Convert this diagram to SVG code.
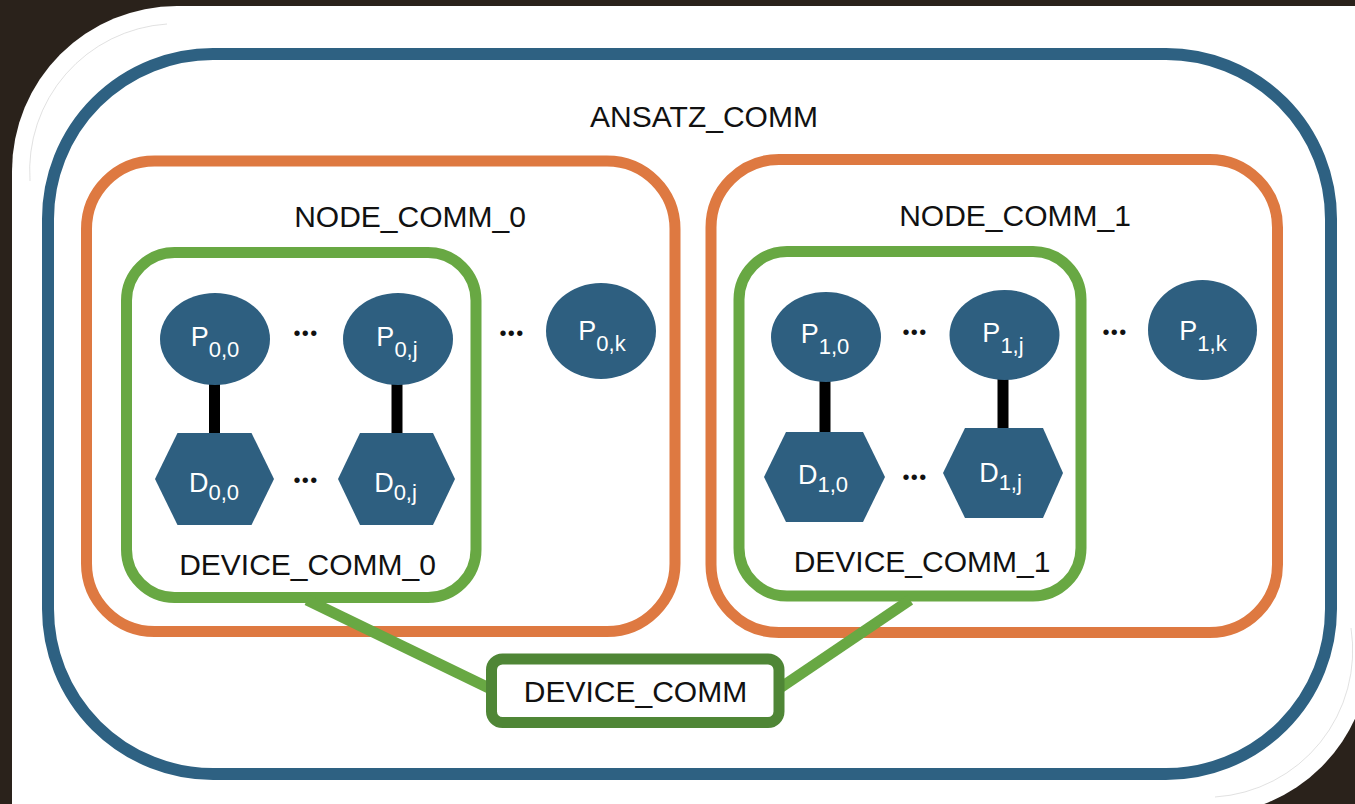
<svg xmlns="http://www.w3.org/2000/svg" width="1355" height="804" viewBox="0 0 1355 804">
<style>
.lbl{font-family:"Liberation Sans",Arial,sans-serif;font-size:30px;fill:#111;text-anchor:middle}
.nt{font-family:"Liberation Sans",Arial,sans-serif;font-size:27px;fill:#fff;text-anchor:middle}
.sub{font-size:22px}
.node{fill:#2e5f80}
.dots{font-family:"Liberation Sans",Arial,sans-serif;font-size:20px;fill:#111;text-anchor:middle;letter-spacing:1.4px}
.ansatz{fill:none;stroke:#2e6182;stroke-width:12}
.nodecomm{fill:none;stroke:#de7941;stroke-width:11}
.devcomm{fill:none;stroke:#68a843;stroke-width:11}
.link{stroke:#000;stroke-width:11}
.glink{stroke:#68a843;stroke-width:11;fill:none}
</style>
<rect x="0" y="0" width="1355" height="804" fill="#2a221b"/>
<path d="M12,171 A165,165 0 0 1 177,6 H1370 V650 A165,165 0 0 1 1205,815 H12 Z" fill="#fff"/>
<path d="M30,181 A147,147 0 0 1 167,24" fill="none" stroke="#aaa" stroke-width="0.6" opacity="0.6"/>
<path d="M1351,628 A147,147 0 0 1 1215,797" fill="none" stroke="#aaa" stroke-width="0.6" opacity="0.6"/>

<g id="ansatz_comm">
<rect class="ansatz" x="48" y="54" width="1283" height="720" rx="165" ry="165"/>
<text class="lbl" x="704" y="127">ANSATZ_COMM</text>
</g>
<g id="node_comm_0">
<rect class="nodecomm" x="86.5" y="161" width="588.5" height="470.5" rx="68" ry="68"/>
<text class="lbl" x="410" y="227">NODE_COMM_0</text>
</g>
<g id="node_comm_1">
<rect class="nodecomm" x="711" y="159.5" width="566.5" height="473" rx="68" ry="68"/>
<text class="lbl" x="1015" y="226">NODE_COMM_1</text>
</g>
<g id="device_comm_0">
<rect class="devcomm" x="126.5" y="252.5" width="349.5" height="345" rx="48" ry="48"/>
<text class="lbl" x="307.5" y="575">DEVICE_COMM_0</text>
</g>
<g id="device_comm_1">
<rect class="devcomm" x="739" y="251.5" width="342" height="344.5" rx="48" ry="48"/>
<text class="lbl" x="922" y="572">DEVICE_COMM_1</text>
</g>

<g id="connectors">
<line class="link" x1="214.5" y1="380" x2="214.5" y2="438"/>
<line class="link" x1="397" y1="380" x2="397" y2="438"/>
<line class="link" x1="825" y1="378" x2="825" y2="436"/>
<line class="link" x1="1003" y1="376" x2="1003" y2="432"/>
<line class="glink" x1="307" y1="600" x2="493" y2="690"/>
<line class="glink" x1="910" y1="600" x2="777" y2="690"/>
</g>

<g id="p00"><ellipse class="node" cx="215" cy="339" rx="55" ry="46"/><text class="nt" x="215" y="346">P<tspan class="sub" dy="11">0,0</tspan></text></g>
<g id="p0j"><ellipse class="node" cx="398" cy="339" rx="55" ry="46"/><text class="nt" x="397" y="346">P<tspan class="sub" dy="11">0,j</tspan></text></g>
<g id="p0k"><ellipse class="node" cx="601" cy="331" rx="55" ry="48"/><text class="nt" x="602" y="340">P<tspan class="sub" dy="11">0,k</tspan></text></g>
<g id="d00"><polygon class="node" points="155,479 177.5,433 251.5,433 274,479 251.5,525 177.5,525"/><text class="nt" x="214" y="492">D<tspan class="sub" dy="8">0,0</tspan></text></g>
<g id="d0j"><polygon class="node" points="338,479 360,433 433,433 455,479 433,525 360,525"/><text class="nt" x="395.5" y="492">D<tspan class="sub" dy="8">0,j</tspan></text></g>

<g id="p10"><ellipse class="node" cx="826" cy="337" rx="55" ry="45"/><text class="nt" x="825" y="343">P<tspan class="sub" dy="11">1,0</tspan></text></g>
<g id="p1j"><ellipse class="node" cx="1004.5" cy="335" rx="55" ry="45"/><text class="nt" x="1003" y="342">P<tspan class="sub" dy="11">1,j</tspan></text></g>
<g id="p1k"><ellipse class="node" cx="1202.5" cy="330" rx="54.5" ry="50"/><text class="nt" x="1203" y="340">P<tspan class="sub" dy="11">1,k</tspan></text></g>
<g id="d10"><polygon class="node" points="764,477 786,432 863,432 885,477 863,522 786,522"/><text class="nt" x="823" y="484">D<tspan class="sub" dy="8">1,0</tspan></text></g>
<g id="d1j"><polygon class="node" points="943,473 965,428 1043,428 1063,473 1043,518 965,518"/><text class="nt" x="1000.5" y="482">D<tspan class="sub" dy="8">1,j</tspan></text></g>

<g id="ellipses">
<text class="dots" x="306" y="340">•••</text>
<text class="dots" x="306" y="487">•••</text>
<text class="dots" x="512" y="340">•••</text>
<text class="dots" x="915" y="339">•••</text>
<text class="dots" x="915" y="484">•••</text>
<text class="dots" x="1115" y="339" font-size="17">•••</text>
</g>

<g id="device_comm">
<rect x="491.5" y="659" width="287.5" height="63.5" rx="11" ry="11" fill="#fff" stroke="#4f8636" stroke-width="11"/>
<text class="lbl" x="635.5" y="702">DEVICE_COMM</text>
</g>
</svg>
